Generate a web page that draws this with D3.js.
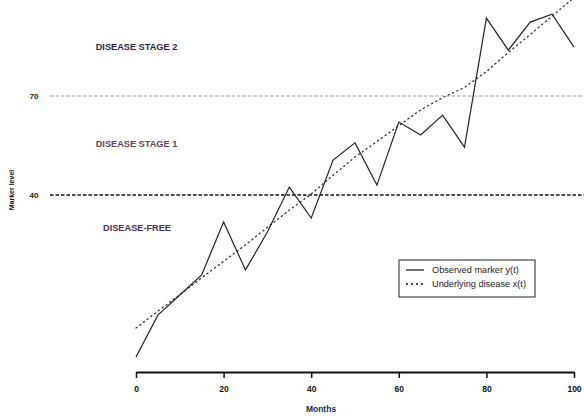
<!DOCTYPE html>
<html>
<head>
<meta charset="utf-8">
<script src="https://cdn.jsdelivr.net/npm/d3@7"></script>
<style>
  html, body { margin: 0; padding: 0; background: #fff; }
  svg { display: block; font-family: "Liberation Sans", Arial, sans-serif; }
</style>
</head>
<body>
<svg id="chart" width="584" height="418"></svg>
<script>
// ---- data ----
const months = [0,5,10,15,20,25,30,35,40,45,50,55,60,65,70,75,80,85,90,95,100];
const observed = [-9.1,3.6,9.7,15.8,31.8,17.3,28.8,42.4,33.0,50.6,55.8,43.0,62.1,58.2,64.2,54.5,93.6,83.9,92.4,94.8,84.8];
const underlying = [-0.3,4.8,9.8,14.9,19.9,24.9,30.2,35.4,40.3,46.0,51.5,56.2,61.0,65.8,69.5,72.6,77.4,83.2,88.6,94.2,99.8];
const thresholds = [70, 40];
const thresholdLabels = ["70", "40"];
const xTicks = [0,20,40,60,80,100];
const stageLabels = ["DISEASE STAGE 2", "DISEASE STAGE 1", "DISEASE-FREE"];
const stageLabelValues = [85, 55.5, 30];
const legendLabels = ["Observed marker y(t)", "Underlying disease x(t)"];

// ---- layout ----
const svg = d3.select("#chart");
const x = d3.scaleLinear().domain([0, 100]).range([136, 574]);
const y = d3.scaleLinear().domain([40, 70]).range([195, 96]);

// threshold lines
const thrStyles = [{c:"#a0a0a0", w:1.2}, {c:"#111", w:1.6}];
thresholds.forEach((t, i) => {
  svg.append("line")
    .attr("x1", 50).attr("x2", 584)
    .attr("y1", y(t)).attr("y2", y(t))
    .attr("stroke", thrStyles[i].c)
    .attr("stroke-width", thrStyles[i].w)
    .attr("stroke-dasharray", "3.5,2");
  svg.append("text")
    .attr("x", 34).attr("y", y(t))
    .attr("dy", "0.35em")
    .attr("text-anchor", "middle")
    .attr("font-size", 8).attr("font-weight", "bold")
    .attr("fill", "#222")
    .text(thresholdLabels[i]);
});

// stage labels
const stageColors = ["#2a1f4a", "#5a4a5a", "#4a3050"];
stageLabels.forEach((s, i) => {
  svg.append("text")
    .attr("x", i === 2 ? 137 : 136.5).attr("y", y(stageLabelValues[i]))
    .attr("dy", "0.35em")
    .attr("text-anchor", "middle")
    .attr("font-size", 9.2).attr("font-weight", "bold")
    .attr("fill", stageColors[i])
    .text(s);
});

// series
const line = d3.line().x((d, i) => x(months[i])).y(d => y(d));
svg.append("path")
  .datum(underlying)
  .attr("d", line)
  .attr("fill", "none")
  .attr("stroke", "#333")
  .attr("stroke-width", 1.3)
  .attr("stroke-dasharray", "1.2,3.5")
  .attr("stroke-linecap", "round");
svg.append("path")
  .datum(observed)
  .attr("d", line)
  .attr("fill", "none")
  .attr("stroke", "#222")
  .attr("stroke-width", 1.2);

// x axis
const xAxis = svg.append("g")
  .attr("transform", "translate(0,372)")
  .call(d3.axisBottom(x).tickValues(xTicks).tickSize(6).tickSizeOuter(0).tickPadding(8));
xAxis.select(".domain").attr("stroke", "#111").attr("stroke-width", 2);
xAxis.selectAll(".tick line").attr("stroke", "#111").attr("stroke-width", 1.5);
xAxis.selectAll(".tick text")
  .attr("font-size", 8.5).attr("font-weight", "bold")
  .attr("fill", "#111")
  .attr("font-family", "Liberation Sans, Arial, sans-serif");

// axis titles
svg.append("text")
  .attr("x", 321).attr("y", 412)
  .attr("text-anchor", "middle")
  .attr("font-size", 8.5).attr("font-weight", "bold")
  .attr("fill", "#1a2a4a")
  .text("Months");
svg.append("text")
  .attr("transform", "translate(12,190) rotate(-90)")
  .attr("text-anchor", "middle")
  .attr("dy", "0.35em")
  .attr("font-size", 7).attr("font-weight", "bold")
  .attr("fill", "#111")
  .text("Marker level");

// legend
const lg = svg.append("g");
lg.append("rect")
  .attr("x", 399).attr("y", 260).attr("width", 136).attr("height", 37)
  .attr("fill", "#fff").attr("stroke", "#222").attr("stroke-width", 1);
const lgStyles = [{d: null, w: 1.2}, {d: "2,3", w: 1.5}];
legendLabels.forEach((l, i) => {
  const ly = 270 + i * 14;
  lg.append("line")
    .attr("x1", 406).attr("x2", 424)
    .attr("y1", ly).attr("y2", ly)
    .attr("stroke", "#111").attr("stroke-width", lgStyles[i].w)
    .attr("stroke-dasharray", lgStyles[i].d);
  lg.append("text")
    .attr("x", 432).attr("y", ly)
    .attr("dy", "0.3em")
    .attr("font-size", 9.2)
    .attr("fill", "#222")
    .text(l);
});
</script>
</body>
</html>
